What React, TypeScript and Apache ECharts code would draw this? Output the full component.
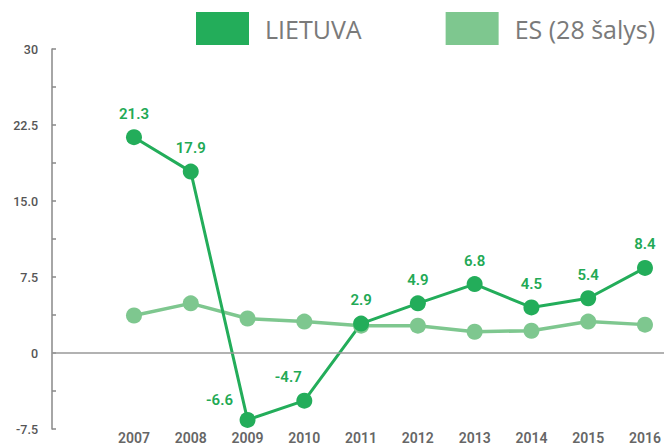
import React, { useEffect, useRef } from "react";
import * as echarts from "echarts";

const years = [2007, 2008, 2009, 2010, 2011, 2012, 2013, 2014, 2015, 2016];
const lietuva = [21.3, 17.9, -6.6, -4.7, 2.9, 4.9, 6.8, 4.5, 5.4, 8.4];
const es = [3.7, 4.9, 3.4, 3.1, 2.7, 2.7, 2.1, 2.2, 3.1, 2.8];
const yTickLabels: Record<string, string> = {
  "30": "30",
  "22.5": "22.5",
  "15": "15.0",
  "7.5": "7.5",
  "0": "0",
  "-7.5": "-7.5",
};
const labelOffsets: Record<number, number[]> = {
  2009: [-28, 4],
  2010: [-16, 0],
};

const GREEN = "#23ad5a";
const LIGHT = "#7ec78f";

export default function App() {
  const ref = useRef<HTMLDivElement>(null);
  useEffect(() => {
    if (!ref.current) return;
    const chart = echarts.init(ref.current, null, { renderer: "svg" });
    chart.setOption({
      animation: false,
      grid: { left: 52, right: 0, top: 49, bottom: 18, containLabel: false },
      legend: {
        data: ["LIETUVA", "ES (28 šalys)"],
        orient: "horizontal",
        left: 196,
        top: 12,
        width: 600,
        padding: 0,
        icon: "rect",
        itemWidth: 53,
        itemHeight: 33,
        itemGap: 84,
        textStyle: {
          fontFamily: "Open Sans",
          fontSize: 25,
          color: "#7a7a7a",
          padding: [0, 0, 0, 11],
        },
      },
      xAxis: {
        type: "value",
        min: 2005.556,
        max: 2016.335,
        axisLine: { show: false },
        axisTick: { show: false },
        splitLine: { show: false },
        axisLabel: {
          customValues: years,
          formatter: (v: number) => String(Math.round(v)),
          fontFamily: "Roboto",
          fontSize: 14,
          fontWeight: 600,
          color: "#666",
          margin: 2,
        },
      },
      yAxis: {
        type: "value",
        min: -7.5,
        max: 30,
        interval: 3.75,
        splitLine: { show: false },
        axisLine: { show: true, lineStyle: { color: "#888", width: 1.5 } },
        axisTick: { show: true, inside: true, length: 4, lineStyle: { color: "#888", width: 1.5 } },
        axisLabel: {
          formatter: (v: number) => yTickLabels[String(v)] ?? "",
          fontFamily: "Roboto",
          fontSize: 12.5,
          fontWeight: 500,
          color: "#555",
          margin: 14,
        },
      },
      series: [
        {
          name: "ES (28 šalys)",
          type: "line",
          data: years.map((y, i) => [y, es[i]]),
          color: LIGHT,
          symbol: "circle",
          symbolSize: 16,
          lineStyle: { width: 3.5, color: LIGHT },
          itemStyle: { color: LIGHT },
          markLine: {
            silent: true,
            symbol: "none",
            label: { show: false },
            lineStyle: { color: "#999", width: 1.5, type: "solid" },
            data: [{ yAxis: 0 }],
          },
        },
        {
          name: "LIETUVA",
          type: "line",
          data: years.map((y, i) => ({
            value: [y, lietuva[i]],
            label: labelOffsets[y] ? { offset: labelOffsets[y] } : undefined,
          })),
          color: GREEN,
          symbol: "circle",
          symbolSize: 16,
          lineStyle: { width: 3, color: GREEN },
          itemStyle: { color: GREEN },
          label: {
            show: true,
            position: "top",
            distance: 8,
            formatter: (p: any) => String(p.value[1]),
            fontFamily: "Roboto",
            fontSize: 15,
            fontWeight: 600,
            color: "#22a955",
          },
        },
      ],
    });
    return () => chart.dispose();
  }, []);
  return <div ref={ref} style={{ width: 664, height: 447, position: "absolute", left: 0, top: 0 }} />;
}
